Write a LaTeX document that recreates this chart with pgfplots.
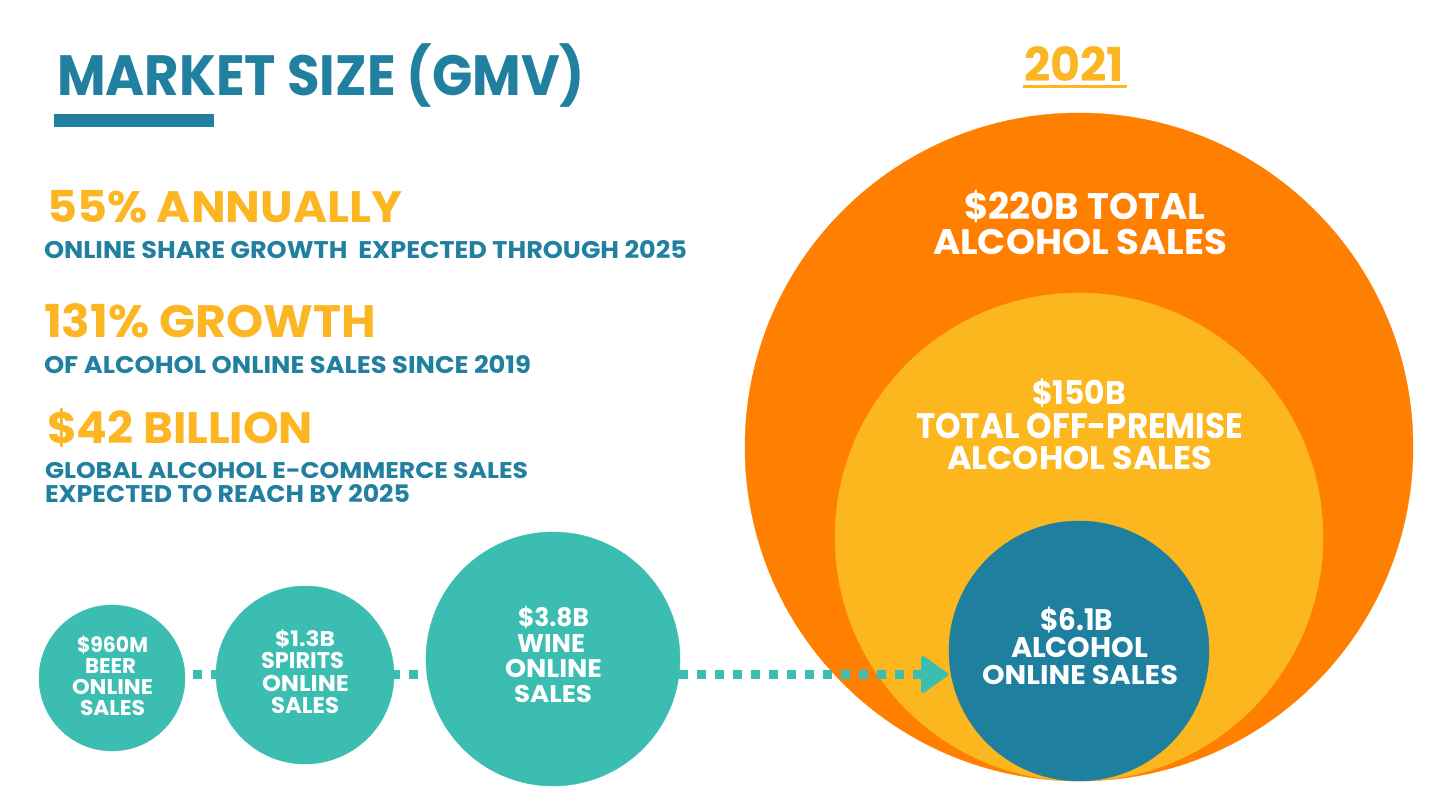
\documentclass[border=0pt]{standalone}
\usepackage{pgfplots}
\pgfplotsset{compat=1.18}
\usepackage{pgfplotstable}
\usepackage{graphicx}
\usepackage{fontspec}
\setmainfont{Poppins}
\definecolor{tcol}{RGB}{33,128,159}
\definecolor{ycol}{RGB}{253,182,35}
\definecolor{orng}{RGB}{255,127,0}
\definecolor{ycirc}{RGB}{252,183,30}
\definecolor{dteal}{RGB}{31,127,159}
\definecolor{lteal}{RGB}{59,189,178}
\newcommand\fitt[3]{\resizebox{#1}{#2}{\bfseries\raisebox{0pt}[\fontcharht\font`\H][0pt]{#3}}}
% color, left, right, top, baseline, text
\newcommand\TL[6]{\node[anchor=base west,inner sep=0pt,outer sep=0pt,text=#1] at (axis cs:#2,#5) {\pgfmathsetmacro\ww{#3-#2}\pgfmathsetmacro\hh{#5-#4}\fitt{\ww pt}{\hh pt}{#6}};}
\pgfplotsset{bubble/.style={only marks, mark=*, scatter, point meta=\thisrow{r},
  scatter/use mapped color={draw=#1, fill=#1},
  mark options={draw=none, fill=#1},
  visualization depends on={\thisrow{r}\as\rad},
  scatter/@pre marker code/.append style={/tikz/mark size=\rad pt}}}
\pgfplotstableread{
x y r
1079 447 334
}\orangecircle
\pgfplotstableread{
x y r
1079 537 244
}\yellowcircle
\pgfplotstableread{
x y r
1079 651 130
}\onlinecircle
\pgfplotstableread{
x y r
112 678 73
305 675 89
553 659 127
}\smallcircles
\begin{document}
\begin{tikzpicture}
\begin{axis}[x=1pt, y=1pt, xmin=0, xmax=1440, ymin=0, ymax=810, y dir=reverse,
  hide axis, clip=false, clip mode=individual, scale only axis, set layers]
\addplot[bubble=orng] table {\orangecircle};
\addplot[bubble=ycirc] table {\yellowcircle};
\addplot[no marks, color=lteal, line width=9pt, dash pattern=on 9pt off 9pt] coordinates {(193,674.5) (922,674.5)};
\addplot[no marks, fill=lteal, draw=lteal, line width=4pt, line join=round] coordinates {(923,658) (946,674.5) (923,691)} -- cycle;
\addplot[bubble=lteal] table {\smallcircles};
\addplot[bubble=dteal] table {\onlinecircle};
\begin{pgfonlayer}{axis foreground}
\fill[tcol] (axis cs:54,114) rectangle (axis cs:214,127);
\fill[ycol] (axis cs:1023,85) rectangle (axis cs:1127,88);
\TL{tcol}{57}{585}{56}{96}{MARKET SIZE (GMV)}
\TL{ycol}{47}{402}{192}{223}{55\% ANNUALLY}
\TL{tcol}{44}{687}{242}{259}{ONLINE SHARE GROWTH\ \ EXPECTED THROUGH 2025}
\TL{ycol}{44}{376}{306}{338}{131\% GROWTH}
\TL{tcol}{44}{531}{357}{374}{OF ALCOHOL ONLINE SALES SINCE 2019}
\TL{ycol}{47}{313}{413}{444}{\$42 BILLION}
\TL{tcol}{45}{528}{463}{479}{GLOBAL ALCOHOL E-COMMERCE SALES}
\TL{tcol}{45}{410}{486}{503}{EXPECTED TO REACH BY 2025}
\TL{ycol}{1024}{1124}{49}{82}{2021}
\TL{white}{964}{1205}{194}{220}{\$220B TOTAL}
\TL{white}{933}{1227}{230}{255}{ALCOHOL SALES}
\TL{white}{1032}{1126}{382}{405}{\$150B}
\TL{white}{916}{1243}{414}{439}{TOTAL OFF-PREMISE}
\TL{white}{947}{1212}{447}{470}{ALCOHOL SALES}
\TL{white}{1040}{1113}{610}{631}{\$6.1B}
\TL{white}{1011}{1148}{638}{658}{ALCOHOL}
\TL{white}{982}{1178}{666}{685}{ONLINE SALES}
\TL{white}{77}{148}{638}{653}{\$960M}
\TL{white}{85}{136}{659}{674}{BEER}
\TL{white}{72}{153}{680}{695}{ONLINE}
\TL{white}{80}{145}{701}{716}{SALES}
\TL{white}{275}{335}{632}{647}{\$1.3B}
\TL{white}{261}{344}{653}{669}{SPIRITS}
\TL{white}{262}{349}{676}{692}{ONLINE}
\TL{white}{271}{339}{698}{714}{SALES}
\TL{white}{518}{589}{609}{627}{\$3.8B}
\TL{white}{517}{585}{635}{653}{WINE}
\TL{white}{505}{602}{660}{678}{ONLINE}
\TL{white}{514}{592}{686}{703}{SALES}
\end{pgfonlayer}
\end{axis}
\pgfresetboundingbox
\path (current axis.south west) rectangle (current axis.north east);
\end{tikzpicture}
\end{document}
